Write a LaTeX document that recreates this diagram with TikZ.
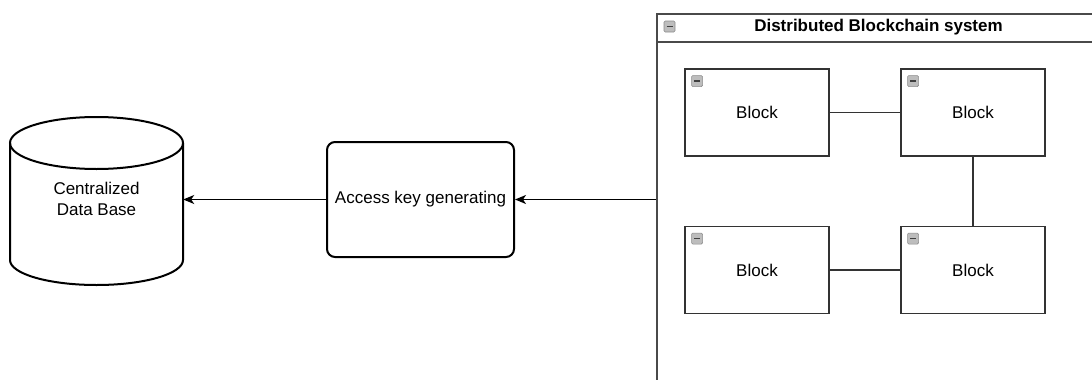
\documentclass[tikz,border=0pt]{standalone}
\usepackage{fontspec}
\setmainfont{Liberation Sans}
\usetikzlibrary{arrows.meta,positioning}
\definecolor{frame}{HTML}{4A4A4A}
\definecolor{blockline}{HTML}{333333}
\definecolor{iconfill}{HTML}{BDBDBD}
\definecolor{iconline}{HTML}{8C8C8C}
\tikzset{
  x=1pt, y=-1pt,
  every node/.style={font=\fontsize{17}{20}\selectfont, inner sep=0pt},
  blockbox/.style={draw=blockline, line width=1.5pt, fill=white,
    minimum width=144pt, minimum height=87pt},
  keybox/.style={draw=black, line width=2pt, rounded corners=8pt,
    minimum width=187pt, minimum height=115pt},
  framebox/.style={draw=frame, line width=1.8pt, minimum width=445pt},
  icon/.style={draw=iconline, fill=iconfill, line width=0.6pt,
    rounded corners=1.2pt, minimum width=11pt, minimum height=11pt,
    path picture={\draw[black!75, line width=1.3pt]
      ([xshift=2.5pt]path picture bounding box.west) --
      ([xshift=-2.5pt]path picture bounding box.east);}},
  link/.style={draw=blockline, line width=1.5pt},
  arr/.style={draw=black, line width=1.3pt,
    -{Stealth[length=11pt, width=9pt, inset=3pt]}},
  cyl/.style={draw=black, line width=2pt}
}
\begin{document}
\begin{tikzpicture}
\useasboundingbox (0,0) rectangle (1092,380);
\clip (0,0) rectangle (1092,380);

% container of the blockchain, running past the page edge
\node[framebox, minimum height=372pt, anchor=north west] (sys) at (656,13) {};
\node[framebox, minimum height=28pt, anchor=north west] (hdr) at (656,13) {};
\node[font=\bfseries\fontsize{17}{20}\selectfont] (title) at (878.5,27.5) {Distributed Blockchain system};
\node[icon] (sysicon) at (669.5,26.5) {};

% blocks
\node[blockbox] (b1) at (757,112.5) {Block};
\node[blockbox] (b2) at (973,112.5) {Block};
\node[blockbox] (b3) at (757,270) {Block};
\node[blockbox] (b4) at (973,270) {Block};
\foreach \b in {b1,b2,b3,b4}
  \node[icon, anchor=north west] (\b icon) at ([xshift=7pt,yshift=-7pt]\b.north west) {};

\draw[link] (b1.east) -- (b2.west);
\draw[link] (b2.south) -- (b4.north);
\draw[link] (b3.east) -- (b4.west);

% key generator
\node[keybox] (key) at (420.5,199.5) {Access key generating};

% centralized database drawn as a cylinder
\node[minimum width=173pt, minimum height=117pt] (db) at (96.5,201.5) {};
\draw[cyl] (10,143) -- (10,260) arc[start angle=180, end angle=0, x radius=86.5, y radius=25] -- (183,143);
\draw[cyl] (96.5,143) ellipse[x radius=86.5, y radius=26];
\node[align=center, font=\fontsize{17}{21}\selectfont] (dbtext) at (96.5,199) {Centralized\\Data Base};

% data flow
\draw[arr] (sys.west |- key.east) -- (key.east);
\draw[arr] (key.west) -- (key.west -| db.east);
\end{tikzpicture}
\end{document}
